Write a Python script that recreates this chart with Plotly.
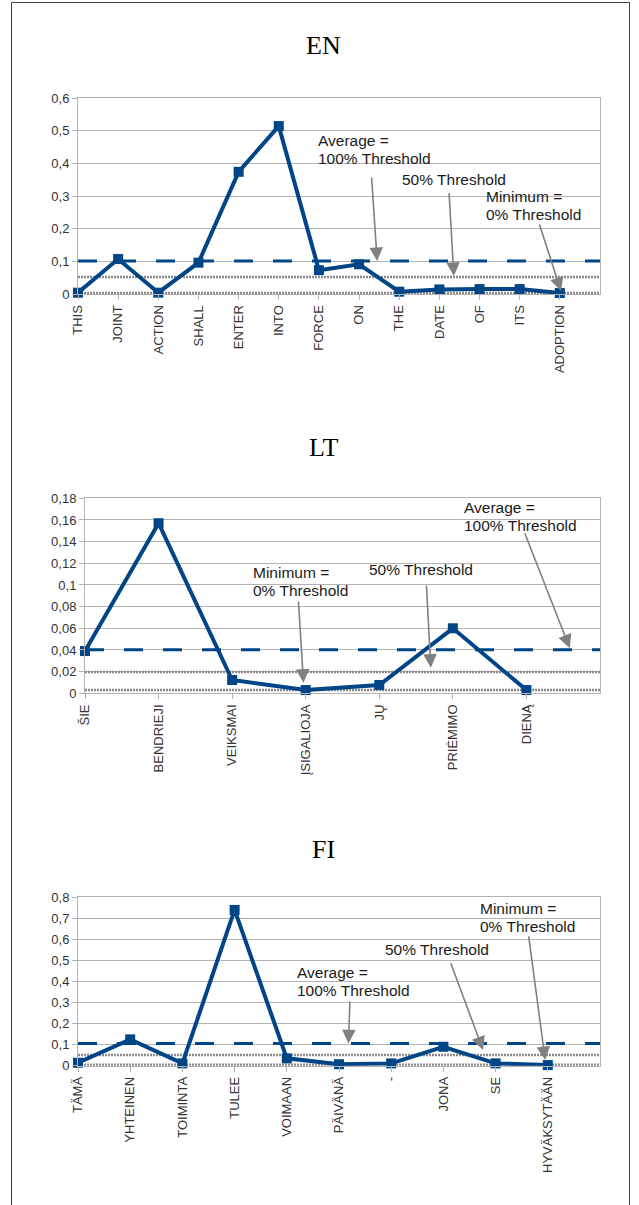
import plotly.graph_objects as go

W, H = 639, 1205

# ---------------- data ----------------
en_words = ["THIS", "JOINT", "ACTION", "SHALL", "ENTER", "INTO", "FORCE", "ON",
            "THE", "DATE", "OF", "ITS", "ADOPTION"]
en_values = [0.004, 0.107, 0.004, 0.096, 0.374, 0.514, 0.073, 0.091,
             0.007, 0.014, 0.015, 0.015, 0.003]
en_avg, en_half, en_min = 0.101, 0.052, 0.003

lt_words = ["ŠIE", "BENDRIEJI", "VEIKSMAI", "ĮSIGALIOJA", "JŲ", "PRIĖMIMO", "DIENĄ"]
lt_values = [0.039, 0.157, 0.0123, 0.003, 0.0077, 0.060, 0.003]
lt_avg, lt_half, lt_min = 0.0403, 0.0197, 0.003

fi_words = ["TÄMÄ", "YHTEINEN", "TOIMINTA", "TULEE", "VOIMAAN", "PÄIVÄNÄ", "-",
            "JONA", "SE", "HYVÄKSYTÄÄN"]
fi_values = [0.014, 0.125, 0.011, 0.740, 0.035, 0.007, 0.011, 0.090, 0.011, 0.003]
fi_avg, fi_half, fi_min = 0.105, 0.051, 0.004

y_ranges = {"EN": (0, 0.6, 0.1), "LT": (0, 0.18, 0.02), "FI": (0, 0.8, 0.1)}

# annotation anchor points in data units (category index, value)
en_notes = [
    (["Average =", "100% Threshold"], (5.93, 0.442), (7.31, 0.361), (7.45, 0.101)),
    (["50% Threshold"], (8.03, 0.349), (9.24, 0.313), (9.36, 0.055)),
    (["Minimum =", "0% Threshold"], (10.12, 0.2715), (11.48, 0.217), (12.03, 0.009)),
]
lt_notes = [
    (["Minimum =", "0% Threshold"], (2.25, 0.1034), (2.90, 0.0861), (2.97, 0.0098)),
    (["50% Threshold"], (3.83, 0.1145), (4.64, 0.1009), (4.70, 0.0236)),
    (["Average =", "100% Threshold"], (5.13, 0.1628), (5.97, 0.1492), (6.59, 0.0416)),
]
fi_notes = [
    (["Average =", "100% Threshold"], (4.15, 0.401), (5.21, 0.312), (5.18, 0.106)),
    (["50% Threshold"], (5.85, 0.550), (7.13, 0.494), (7.76, 0.0746)),
    (["Minimum =", "0% Threshold"], (7.66, 0.706), (8.63, 0.621), (8.95, 0.027)),
]

# ---------------- layout (pixels) ----------------
panels = [
    ("EN", en_words, en_values, en_avg, en_half, en_min, en_notes, 78, 600, 98, 294, 46),
    ("LT", lt_words, lt_values, lt_avg, lt_half, lt_min, lt_notes, 85, 600, 498.3, 693.3, 447),
    ("FI", fi_words, fi_values, fi_avg, fi_half, fi_min, fi_notes, 78, 600, 897.3, 1065.7, 849),
]

BLUE = "#004586"
GRID = "#b3b3b3"
DOT = "#8a8a8a"
TXT = "#333333"
ARROW = "#808080"
LINE_GAP = 18  # px between annotation text lines

fig = go.Figure()
annotations = []
layout_axes = {}

for k, (name, words, values, avg, half, mn, notes, px0, px1, pyt, pyb, ty) in enumerate(panels):
    sfx = "" if k == 0 else str(k + 1)
    xa, ya = "x" + sfx, "y" + sfx
    n = len(words)
    cats = list(range(n))
    ymin, ymax, dt = y_ranges[name]

    for val, dash, color, width in [(mn, "2px,1px", DOT, 2.5),
                                     (half, "2px,1px", DOT, 2.5),
                                     (avg, "19px,20px", BLUE, 3)]:
        fig.add_trace(go.Scatter(x=[0, n], y=[val, val], mode="lines",
                                 line=dict(color=color, width=width, dash=dash),
                                 xaxis=xa, yaxis=ya, showlegend=False,
                                 hoverinfo="skip"))
    fig.add_trace(go.Scatter(x=cats, y=values, mode="lines+markers",
                             line=dict(color=BLUE, width=4),
                             marker=dict(symbol="square", size=10, color=BLUE),
                             cliponaxis=False,
                             xaxis=xa, yaxis=ya, showlegend=False))

    ticks = []
    v = ymin
    while v <= ymax + 1e-9:
        ticks.append(round(v, 4))
        v += dt

    layout_axes["xaxis" + sfx] = dict(
        domain=[px0 / W, px1 / W], anchor=ya, range=[0, n],
        tickmode="array", tickvals=cats, ticktext=words, tickangle=-90,
        showgrid=False, zeroline=False, showline=True, linecolor=GRID,
        mirror=True, ticks="outside", ticklen=5, tickcolor=GRID,
        tickfont=dict(family="Liberation Sans", size=13, color=TXT),
        automargin=False, fixedrange=True)
    layout_axes["yaxis" + sfx] = dict(
        domain=[1 - pyb / H, 1 - pyt / H], anchor=xa, range=[ymin, ymax],
        tickmode="array", tickvals=ticks,
        showgrid=True, gridcolor=GRID, gridwidth=1, zeroline=False,
        showline=True, linecolor=GRID, mirror=True,
        ticks="outside", ticklen=5, tickcolor=GRID,
        tickfont=dict(family="Liberation Sans", size=13, color=TXT),
        automargin=False, fixedrange=True)

    annotations.append(dict(text=name, xref="paper", yref="paper",
                            x=323.5 / W, y=1 - ty / H, showarrow=False,
                            xanchor="center", yanchor="middle",
                            font=dict(family="Liberation Serif", size=26, color="black")))
    for lines, (tx, tyv), (ax, ay), (hx, hy) in notes:
        m = len(lines)
        for j, line in enumerate(lines):
            shift = ((m - 1) / 2 - j) * LINE_GAP
            annotations.append(dict(text=line, xref=xa, yref=ya, x=tx, y=tyv,
                                    yshift=shift, showarrow=False,
                                    xanchor="left", yanchor="middle", align="left",
                                    font=dict(family="Liberation Sans", size=15.5,
                                              color="#1a1a1a")))
        annotations.append(dict(text="", xref=xa, yref=ya, x=hx, y=hy,
                                axref=xa, ayref=ya, ax=ax, ay=ay,
                                showarrow=True, arrowhead=2, arrowsize=1.7,
                                arrowwidth=1.6, arrowcolor=ARROW, standoff=0))

shapes = [dict(type="rect", xref="paper", yref="paper",
               x0=11.5 / W, x1=629.5 / W, y0=-0.01, y1=1 - 2.5 / H,
               line=dict(color="#404040", width=1), fillcolor="rgba(0,0,0,0)",
               layer="above")]

fig.update_layout(width=W, height=H, margin=dict(l=0, r=0, t=0, b=0),
                  paper_bgcolor="white", plot_bgcolor="white",
                  separators=", ", annotations=annotations, shapes=shapes,
                  showlegend=False, **layout_axes)

fig.write_html("out.html", config={"displayModeBar": False},
               post_script="document.body.style.margin='0';")
